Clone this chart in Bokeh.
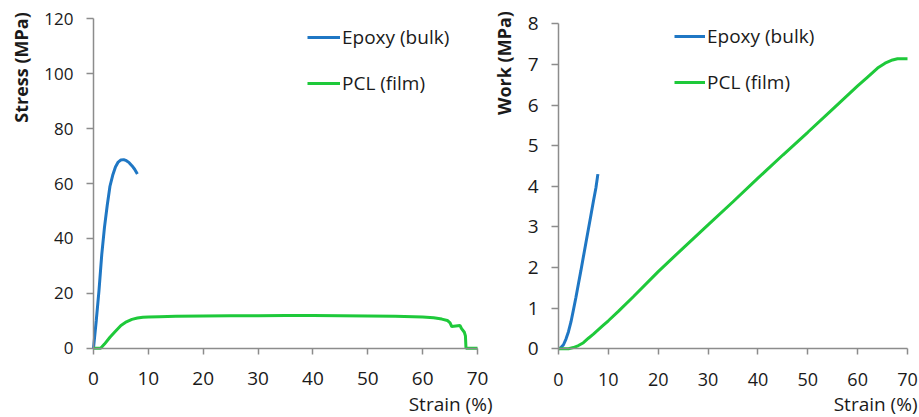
from math import pi
from bokeh.plotting import figure
from bokeh.layouts import row
from bokeh.models import Range1d, Legend, LegendItem, Label
from bokeh.embed import file_html
from bokeh.resources import INLINE

# ---------------- data ----------------
epoxy_strain = [0, 0.5, 1, 1.5, 2, 2.5, 3, 3.5, 4, 4.5, 5, 5.5, 6, 6.5, 7, 7.5, 8]
epoxy_stress = [0, 10, 21, 34, 44, 52, 59, 63, 66, 67.8, 68.6, 68.7, 68.3, 67.6, 66.5, 65.2, 63.5]

pcl_strain = [0, 1.3, 2, 3, 4, 5, 6, 7, 8, 9, 10, 12, 15, 20, 25, 30, 35, 40, 45, 50,
              55, 60, 62, 63.5, 64.5, 65, 65.3, 66.8, 67.1, 67.6, 67.8, 67.9, 70]
pcl_stress = [0, 0, 1.5, 4, 6.2, 8.3, 9.6, 10.5, 11, 11.3, 11.4, 11.5, 11.6, 11.7, 11.8, 11.8,
              11.9, 11.9, 11.8, 11.7, 11.6, 11.4, 11.1, 10.6, 10.1, 9.2, 7.9, 8.3, 7.1, 5.8, 4.5, 0, 0]

epoxy_work_strain = [0, 0.5, 1, 1.5, 2, 2.5, 3, 3.5, 4, 4.5, 5, 5.5, 6, 6.5, 7, 7.5, 7.9]
epoxy_work = [0, 0.03, 0.1, 0.24, 0.42, 0.66, 0.96, 1.27, 1.6, 1.93, 2.27, 2.61, 2.95,
              3.29, 3.63, 3.96, 4.3]

pcl_work_strain = [0, 2, 3, 4, 5, 6, 7, 8, 9, 10, 12, 15, 20, 25, 30, 35, 40, 45, 50, 55,
                   60, 62, 64, 65.5, 67, 68, 70]
pcl_work = [0, 0.0, 0.03, 0.08, 0.15, 0.26, 0.36, 0.47, 0.58, 0.69, 0.92, 1.28, 1.9, 2.48,
            3.05, 3.62, 4.2, 4.77, 5.33, 5.9, 6.47, 6.69, 6.91, 7.03, 7.11, 7.14, 7.14]

x_ticks = [0, 10, 20, 30, 40, 50, 60, 70]
stress_ticks = [0, 20, 40, 60, 80, 100, 120]
work_ticks = [0, 1, 2, 3, 4, 5, 6, 7, 8]

series_names = ["Epoxy (bulk)", "PCL (film)"]
x_title = "Strain (%)"
y_titles = ["Stress (MPa)", "Work (MPa)"]

BLUE = "#1f77c4"
GREEN = "#1ec93a"
AXIS = "#8c8c8c"
TXT = "#1a1a1a"
FONT = "Open Sans"
H = 417


def make_fig(width, x0_px, x1_px, y0_px, y1_px, xmax, ymax):
    """Figure whose frame fills the canvas; data 0..xmax maps to x0_px..x1_px,
    0..ymax maps to y0_px..y1_px (canvas pixels, y down)."""
    sx = (x1_px - x0_px) / xmax
    sy = (y0_px - y1_px) / ymax
    xr = Range1d(-x0_px / sx, (width - x0_px) / sx)
    yr = Range1d(-(H - y0_px) / sy, ymax + y1_px / sy)
    p = figure(width=width, height=H, x_range=xr, y_range=yr,
               output_backend="svg", toolbar_location=None,
               min_border_left=0, min_border_right=0, min_border_top=0, min_border_bottom=0)
    p.outline_line_color = None
    p.xgrid.visible = False
    p.ygrid.visible = False
    p.background_fill_color = "white"
    p.border_fill_color = "white"
    return p


def style(p, xmax, ymax, yticks, xfs, yfs):
    xa, ya = p.xaxis[0], p.yaxis[0]
    xa.fixed_location = 0
    ya.fixed_location = 0
    xa.bounds = (0, xmax)
    ya.bounds = (0, ymax)
    for ax in (xa, ya):
        ax.axis_line_color = AXIS
        ax.axis_line_width = 1.5
        ax.major_tick_line_color = AXIS
        ax.major_tick_line_width = 1.5
        ax.major_tick_in = 0
        ax.minor_tick_in = 0
        ax.minor_tick_out = 0
        ax.major_label_text_font = FONT
        ax.major_label_text_color = TXT
    xa.ticker = x_ticks
    ya.ticker = yticks
    xa.major_tick_out = 6
    ya.major_tick_out = 7
    xa.major_label_standoff = 18
    ya.major_label_standoff = 13
    xa.major_label_text_font_size = xfs
    ya.major_label_text_font_size = yfs


def add_legend(p, r1, r2, loc, gw):
    leg = Legend(items=[LegendItem(label=series_names[0], renderers=[r1]),
                        LegendItem(label=series_names[1], renderers=[r2])],
                 location=loc)
    leg.border_line_color = None
    leg.background_fill_alpha = 0
    leg.padding = 0
    leg.margin = 0
    leg.spacing = 20
    leg.glyph_width = gw
    leg.glyph_height = 26
    leg.label_height = 26
    leg.label_standoff = 2
    leg.label_text_font = FONT
    leg.label_text_font_size = "19px"
    leg.label_text_color = TXT
    p.add_layout(leg)


def titles(p, ytext, ycx, ycy, xright):
    p.add_layout(Label(x=ycx, y=H - ycy, x_units="screen", y_units="screen", text=ytext,
                       angle=pi / 2, text_align="center", text_baseline="middle",
                       text_font=FONT, text_font_style="bold", text_font_size="18px",
                       text_color=TXT))
    p.add_layout(Label(x=xright, y=H - 403, x_units="screen", y_units="screen", text=x_title,
                       text_align="right", text_baseline="middle",
                       text_font=FONT, text_font_size="19px", text_color=TXT))


# ---------------- left: stress ----------------
p1 = make_fig(493, 93, 477, 347.7, 18.3, 70, 120)
style(p1, 70, 120, stress_ticks, "19px", "17px")
r1 = p1.line(epoxy_strain, epoxy_stress, line_color=BLUE, line_width=3)
r2 = p1.line(pcl_strain, pcl_stress, line_color=GREEN, line_width=3)
add_legend(p1, r1, r2, (307, 321), 33)
titles(p1, y_titles[0], 20, 67, 492)

# ---------------- right: work ----------------
p2 = make_fig(426, 65, 414, 348.3, 23.3, 70, 8)
style(p2, 70, 8, work_ticks, "18px", "19px")
q1 = p2.line(epoxy_work_strain, epoxy_work, line_color=BLUE, line_width=3)
q2 = p2.line(pcl_work_strain, pcl_work, line_color=GREEN, line_width=3)
add_legend(p2, q1, q2, (181, 322), 31)
titles(p2, y_titles[1], 10.5, 62.5, 424)

layout = row(p1, p2)
open("out.html", "w").write(file_html(layout, INLINE))
